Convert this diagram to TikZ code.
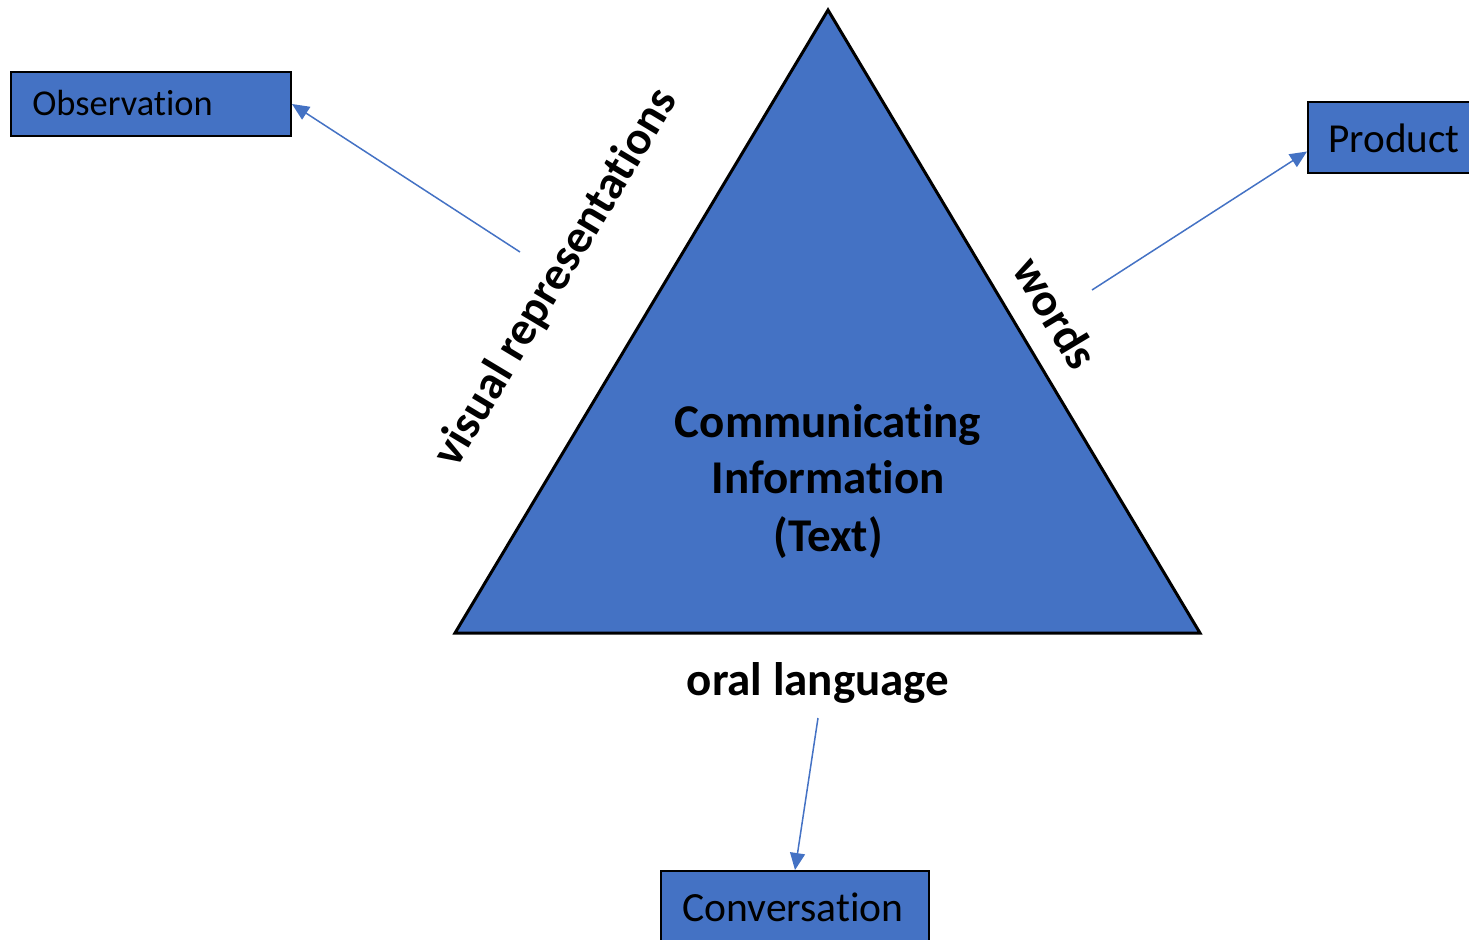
\documentclass[tikz,border=0pt]{standalone}
\usepackage{fontspec}
\setmainfont{Carlito}[Ligatures=NoCommon]
\usetikzlibrary{arrows.meta}
\definecolor{ofblue}{HTML}{4472C4}
\begin{document}
\begin{tikzpicture}[x=0.5pt,y=-0.5pt,
  boxnode/.style={draw=black,line width=1pt,fill=ofblue,inner sep=0pt,anchor=north west},
  lbl/.style={font=\bfseries\fontsize{23.5}{28}\selectfont,inner sep=0pt},
  conn/.style={draw=ofblue,line width=0.75pt,-{Triangle[length=8.5pt,width=7.5pt]}}]
\useasboundingbox (0,0) rectangle (1469,939);
\clip (0,0) rectangle (1469,939);
% triangle
\draw[line width=1.5pt,fill=ofblue,line join=miter] (828,10) -- (1200,633) -- (455,633) -- cycle;
% boxes
\node[boxnode,minimum width=140pt,minimum height=32pt] (obs) at (10,71) {};
\node[font=\fontsize{18.2}{22}\selectfont,anchor=west,inner sep=0pt] at (32,103) {Observation};
\node[boxnode,minimum width=90pt,minimum height=35.5pt] (prod) at (1307,101) {};
\node[font=\fontsize{20.6}{24}\selectfont,inner sep=0pt] at (1394,138) {Product};
\node[boxnode,minimum width=134pt,minimum height=40pt] (conv) at (660,870) {};
\node[font=\fontsize{20.8}{24}\selectfont,inner sep=0pt] at (793,907) {Conversation};
% labels
\node[lbl,align=center] (center) at (828,482) {Communicating\\Information\\[1pt](Text)};
\node[lbl,anchor=base] (oral) at (818,695) {oral language};
\node[lbl,rotate=-59] (words) at (1056,313) {words};
\node[lbl,rotate=59] (visual) at (556,278) {visual representations};
% connectors
\coordinate (s1) at (520,252);
\coordinate (s2) at (1092,290);
\coordinate (s3) at (818,718);
\draw[conn] (s1) -- (obs.east);
\draw[conn] (s2) -- ([yshift=-7pt]prod.west);
\draw[conn] (s3) -- (conv.north);
\end{tikzpicture}
\end{document}
